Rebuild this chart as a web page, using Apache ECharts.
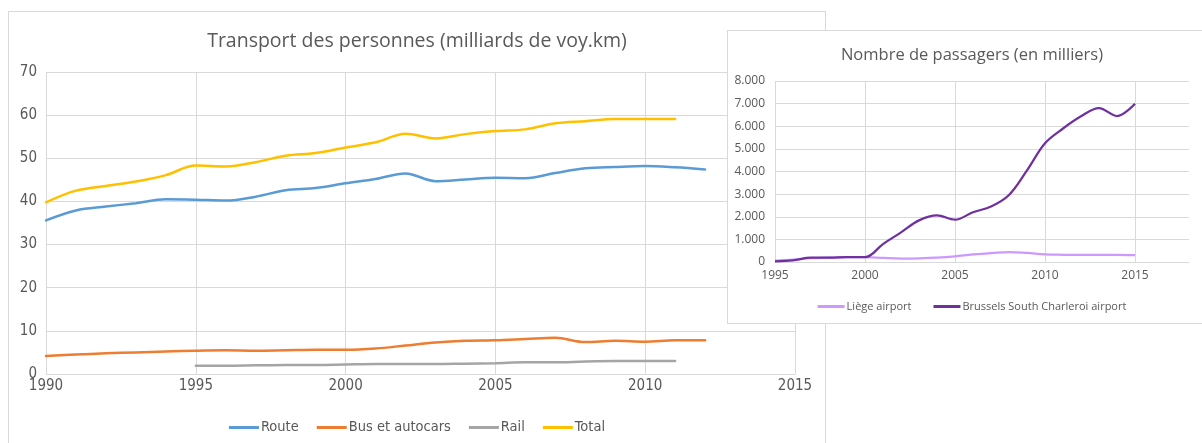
<!DOCTYPE html>
<html>
<head>
<meta charset="utf-8">
<script src="https://cdn.jsdelivr.net/npm/echarts@6/dist/echarts.min.js"></script>
<style>
  html, body { margin: 0; padding: 0; background: #fff; width: 1202px; height: 443px; overflow: hidden; }
  #left { position: absolute; left: 8px; top: 11px; width: 816px; height: 450px; border: 1px solid #d9d9d9; background: #fff; }
  #right { position: absolute; left: 727px; top: 30px; width: 488px; height: 292px; border: 1px solid #d9d9d9; background: #fff; }
</style>
</head>
<body>
<div id="left"></div>
<div id="right"></div>
<script>
// ---- Left chart data: Transport des personnes (milliards de voy.km)
const yearsA = [1990,1991,1992,1993,1994,1995,1996,1997,1998,1999,2000,2001,2002,2003,2004,2005,2006,2007,2008,2009,2010,2011,2012];
const route = [35.6,37.9,38.8,39.6,40.5,40.4,40.2,41.1,42.6,43.1,44.2,45.2,46.5,44.7,45.1,45.5,45.4,46.6,47.7,48.0,48.2,47.9,47.4];
const bus   = [4.2,4.5,4.8,5.0,5.2,5.4,5.5,5.4,5.5,5.6,5.6,5.9,6.6,7.3,7.7,7.8,8.1,8.4,7.4,7.7,7.5,7.8,7.8];
const rail  = [null,null,null,null,null,1.9,1.9,2.0,2.1,2.1,2.2,2.3,2.3,2.3,2.4,2.5,2.7,2.7,2.9,3.0,3.0,3.0,null];
const total = [39.8,42.5,43.6,44.6,46.1,48.3,48.1,49.1,50.6,51.2,52.5,53.7,55.7,54.6,55.6,56.3,56.7,58.1,58.6,59.1,59.1,59.1,null];
const seriesNamesA = ['Route','Bus et autocars','Rail','Total'];

// ---- Right chart data: Nombre de passagers (en milliers)
const yearsB = [1995,1996,1997,1998,1999,2000,2001,2002,2003,2004,2005,2006,2007,2008,2009,2010,2011,2012,2013,2014,2015];
const liege = [60,100,170,190,210,210,180,150,160,190,250,340,390,440,400,340,320,310,320,320,300];
const charleroi = [30,75,190,190,220,210,790,1310,1840,2060,1870,2200,2450,2960,4050,5250,5900,6440,6800,6450,6990];
const seriesNamesB = ['Liège airport','Brussels South Charleroi airport'];

function pairs(xs, ys) {
  const out = [];
  for (let i = 0; i < xs.length; i++) if (ys[i] !== null) out.push([xs[i], ys[i]]);
  return out;
}

const narrow = '"Liberation Sans Narrow", "DejaVu Sans Condensed", sans-serif';
const segoe = '"Open Sans", "Noto Sans", sans-serif';
const grey = '#595959';
const gridCol = '#d9d9d9';

const colorsA = ['#5B9BD5','#ED7D31','#A5A5A5','#FFC000'];
const dataA = [route, bus, rail, total];

const left = echarts.init(document.getElementById('left'), null, {renderer: 'canvas'});
left.setOption({
  animation: false,
  title: {
    text: 'Transport des personnes (milliards de voy.km)',
    left: 'center', top: 14,
    textStyle: { fontFamily: segoe, fontSize: 19.5, fontWeight: 'normal', color: grey }
  },
  legend: {
    bottom: 22, left: 'center',
    itemWidth: 30, itemHeight: 3, itemGap: 18, icon: 'rect',
    textStyle: { fontFamily: narrow, fontSize: 14.5, color: grey, padding: [0,0,0,-3] },
    data: seriesNamesA
  },
  grid: { left: 37, top: 60, width: 749, height: 302, containLabel: false },
  xAxis: {
    type: 'value', min: 1990, max: 2015, interval: 5,
    axisLine: { show: true, lineStyle: { color: gridCol, width: 1 } },
    axisTick: { show: false },
    axisLabel: { color: grey, fontFamily: narrow, fontSize: 15, margin: 5, formatter: v => String(v) },
    splitLine: { show: true, lineStyle: { color: gridCol } }
  },
  yAxis: {
    type: 'value', min: 0, max: 70, interval: 10,
    axisLine: { show: false }, axisTick: { show: false },
    axisLabel: { color: grey, fontFamily: narrow, fontSize: 15, margin: 9 },
    splitLine: { show: true, lineStyle: { color: gridCol } }
  },
  series: seriesNamesA.map((n, i) => ({
    name: n, type: 'line', smooth: 0.35, showSymbol: false, symbol: 'none',
    color: colorsA[i],
    lineStyle: { width: 2.5, color: colorsA[i], cap: 'round' },
    data: pairs(yearsA, dataA[i])
  }))
});

const colorsB = ['#CC99FF','#7030A0'];
const dataB = [liege, charleroi];
const right = echarts.init(document.getElementById('right'), null, {renderer: 'canvas'});
right.setOption({
  animation: false,
  title: {
    text: 'Nombre de passagers (en milliers)',
    left: 'center', top: 11,
    textStyle: { fontFamily: segoe, fontSize: 16.5, fontWeight: 'normal', color: grey }
  },
  legend: {
    top: 265, left: 'center',
    itemWidth: 27, itemHeight: 3, itemGap: 22, icon: 'rect',
    textStyle: { fontFamily: segoe, fontSize: 11, color: grey, padding: [0,0,0,-3] },
    data: seriesNamesB
  },
  grid: { left: 47, top: 50, width: 414, height: 181, containLabel: false },
  xAxis: {
    type: 'value', min: 1995, max: 2018, interval: 5,
    axisLine: { show: true, lineStyle: { color: gridCol } },
    axisTick: { show: false },
    axisLabel: { color: grey, fontFamily: segoe, fontSize: 12, margin: 8, showMaxLabel: false, formatter: v => String(v) },
    splitLine: { show: true, showMaxLine: false, lineStyle: { color: gridCol } }
  },
  yAxis: {
    type: 'value', min: 0, max: 8000, interval: 1000,
    axisLine: { show: false }, axisTick: { show: false },
    axisLabel: {
      color: grey, fontFamily: segoe, fontSize: 12, margin: 10,
      formatter: v => v === 0 ? '0' : String(v).replace(/\B(?=(\d{3})+(?!\d))/g, '.')
    },
    splitLine: { show: true, lineStyle: { color: gridCol } }
  },
  series: seriesNamesB.map((n, i) => ({
    name: n, type: 'line', smooth: 0.35, showSymbol: false, symbol: 'none',
    color: colorsB[i],
    lineStyle: { width: 2.25, color: colorsB[i] },
    data: pairs(yearsB, dataB[i])
  }))
});
</script>
</body>
</html>
